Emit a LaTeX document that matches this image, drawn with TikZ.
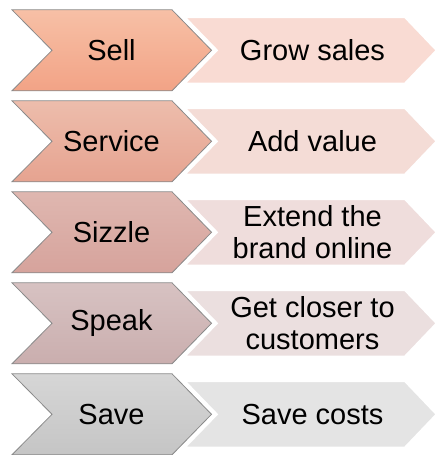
\documentclass[tikz,border=0pt]{standalone}
\usepackage{fontspec}
\setmainfont{Liberation Sans}
\definecolor{aT}{HTML}{F7C0A6}\definecolor{aB}{HTML}{F2A386}\definecolor{aL}{HTML}{F9DBD3}
\definecolor{bT}{HTML}{EDBDAC}\definecolor{bB}{HTML}{E6A390}\definecolor{bL}{HTML}{F4DCD6}
\definecolor{cT}{HTML}{DFB7B0}\definecolor{cB}{HTML}{D6A39C}\definecolor{cL}{HTML}{EFDDDC}
\definecolor{dT}{HTML}{D7C2C2}\definecolor{dB}{HTML}{CAAEAE}\definecolor{dL}{HTML}{EBDFDF}
\definecolor{eT}{HTML}{D6D6D6}\definecolor{eB}{HTML}{C5C5C5}\definecolor{eL}{HTML}{E4E4E4}
\definecolor{edgegray}{HTML}{8A8A8A}
\tikzset{
  chev/.style={draw=edgegray, line width=0.8pt, line join=miter},
  lightbox/.style={draw=white, line width=2.5pt, line join=miter},
  lbl/.style={font=\fontsize{29}{32}\selectfont, align=center, inner sep=0pt, text=black}
}
\begin{document}
\begin{tikzpicture}[x=1pt,y=-1pt]
\useasboundingbox (0,0) rectangle (438,455);
\foreach \i/\c/\left/\right/\nm in {0/a/Sell/Grow sales/sell,1/b/Service/Add value/service,2/c/Sizzle/{Extend the\\brand online}/sizzle,3/d/Speak/{Get closer to\\customers}/speak,4/e/Save/Save costs/save}{
  \pgfmathsetmacro{\cy}{50.3+91*\i}
  % light arrow
  \path[lightbox, fill=\c L]
    (184,\cy-33.5) -- (405,\cy-33.5) -- (437,\cy) -- (405,\cy+33.5) -- (184,\cy+33.5) -- (216.5,\cy) -- cycle;
  % chevron
  \path[chev, top color=\c T, bottom color=\c B]
    (12,\cy-40.5) -- (172,\cy-40.5) -- (211.5,\cy) -- (172,\cy+40.5) -- (12,\cy+40.5) -- (52,\cy) -- cycle;
  \node[lbl] (\nm-a) at (111.5,\cy) {\left};
  \node[lbl] (\nm-b) at (312.5,\cy) {\right};
}
\end{tikzpicture}
\end{document}
